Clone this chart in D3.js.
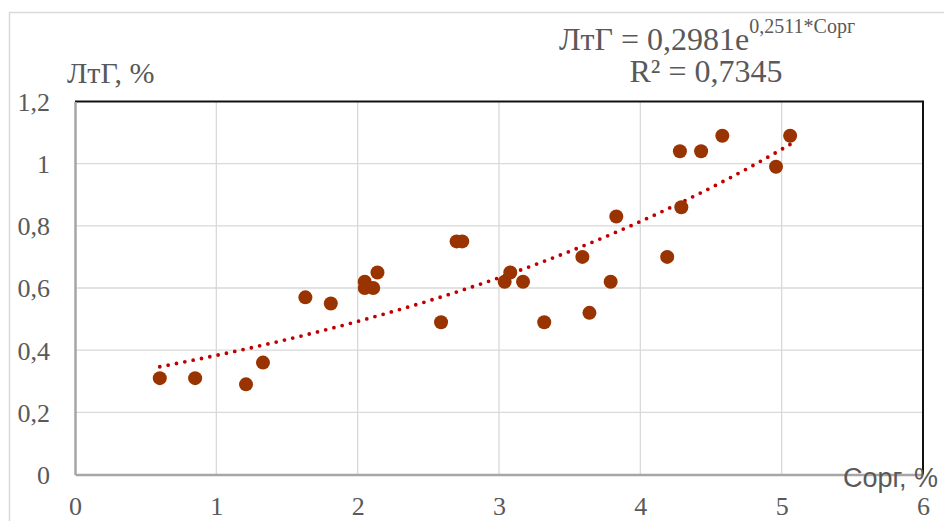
<!DOCTYPE html>
<html>
<head>
<meta charset="utf-8">
<script src="https://cdn.jsdelivr.net/npm/d3@7"></script>
<style>
  body { margin: 0; background: #fff; }
  svg { display: block; }
  .tick-label { font-family: 'Liberation Serif', 'Times New Roman', serif; font-size: 26px; fill: #595959; }
</style>
</head>
<body>
<div class="visual"></div>
<script>
const [width, height] = [944, 521];
const margin = { left: 75, right: 21, top: 101.5, bottom: 46.5 };

// data
const c_org = [0.6, 0.85, 1.21, 1.33, 1.63, 1.81, 2.05, 2.05, 2.11, 2.14, 2.59, 2.7, 2.74,
  3.04, 3.08, 3.17, 3.32, 3.59, 3.64, 3.79, 3.83, 4.19, 4.28, 4.29, 4.43, 4.58, 4.96, 5.06];
const ltg = [0.31, 0.31, 0.29, 0.36, 0.57, 0.55, 0.62, 0.6, 0.6, 0.65, 0.49, 0.75, 0.75,
  0.62, 0.65, 0.62, 0.49, 0.7, 0.52, 0.62, 0.83, 0.7, 1.04, 0.86, 1.04, 1.09, 0.99, 1.09];
const x_ticks = [0, 1, 2, 3, 4, 5, 6];
const y_ticks = [0, 0.2, 0.4, 0.6, 0.8, 1, 1.2];
const [trend_a, trend_b] = [0.2981, 0.2511];
const trend_steps = [0, 0.05, 0.1, 0.15, 0.2, 0.25, 0.3, 0.35, 0.4, 0.45, 0.5, 0.55, 0.6, 0.65, 0.7, 0.75, 0.8, 0.85, 0.9, 0.95, 1];

const fmt = (v) => String(v).replace('.', ',');

const svg = d3
  .select('.visual')
  .append('svg')
  .attr('width', width)
  .attr('height', height);

// chart area frame
svg
  .append('rect')
  .attr('x', 9.5)
  .attr('y', 12.5)
  .attr('width', 1000)
  .attr('height', 1000)
  .attr('fill', '#fff')
  .attr('stroke', '#d9d9d9')
  .attr('stroke-width', 1.5);

const x_scale = d3.scaleLinear().domain([0, 6]).range([margin.left, width - margin.right]);
const y_scale = d3.scaleLinear().domain([0, 1.2]).range([height - margin.bottom, margin.top]);

// gridlines
svg
  .append('g')
  .selectAll('line')
  .data(y_ticks.slice(1, -1))
  .enter()
  .append('line')
  .attr('x1', x_scale(0))
  .attr('x2', x_scale(6))
  .attr('y1', (d) => y_scale(d))
  .attr('y2', (d) => y_scale(d))
  .attr('stroke', '#d9d9d9')
  .attr('stroke-width', 1.3);

svg
  .append('g')
  .selectAll('line')
  .data(x_ticks.slice(1, -1))
  .enter()
  .append('line')
  .attr('x1', (d) => x_scale(d))
  .attr('x2', (d) => x_scale(d))
  .attr('y1', y_scale(0))
  .attr('y2', y_scale(1.2))
  .attr('stroke', '#d9d9d9')
  .attr('stroke-width', 1.3);

// plot area border: black top & right
svg
  .append('path')
  .attr('d', `M${x_scale(0)},${y_scale(1.2)}H${x_scale(6)}V${y_scale(0)}`)
  .attr('fill', 'none')
  .attr('stroke', '#111')
  .attr('stroke-width', 2);

// axes
const x_axis = d3.axisBottom(x_scale).tickValues(x_ticks).tickSize(0).tickPadding(21).tickFormat(fmt);
const y_axis = d3.axisLeft(y_scale).tickValues(y_ticks).tickSize(0).tickPadding(25).tickFormat(fmt);

const gx = svg
  .append('g')
  .attr('transform', `translate(0, ${y_scale(0)})`)
  .call(x_axis);
const gy = svg
  .append('g')
  .attr('transform', `translate(${x_scale(0)}, 0)`)
  .call(y_axis);

[gx, gy].forEach((g) => {
  g.select('.domain').attr('stroke', '#a6a6a6').attr('stroke-width', 2.5);
  g.selectAll('text').attr('class', 'tick-label').attr('font-size', null).attr('font-family', null);
});
gy.selectAll('text').attr('dy', '0.34em');
gx.selectAll('text').attr('dy', '0.76em');

// trendline
const x_min = d3.min(c_org);
const x_max = d3.max(c_org);
const trend_pts = trend_steps.map((t) => {
  const xv = x_min + (x_max - x_min) * t;
  return [xv, trend_a * Math.exp(trend_b * xv)];
});

svg
  .append('path')
  .datum(trend_pts)
  .attr('d', d3.line().x((d) => x_scale(d[0])).y((d) => y_scale(d[1])).curve(d3.curveMonotoneX))
  .attr('fill', 'none')
  .attr('stroke', '#c00000')
  .attr('stroke-width', 3.8)
  .attr('stroke-linecap', 'round')
  .attr('stroke-dasharray', '0 8.5');

// points
svg
  .append('g')
  .selectAll('circle')
  .data(c_org)
  .enter()
  .append('circle')
  .attr('cx', (d) => x_scale(d))
  .attr('cy', (d, i) => y_scale(ltg[i]))
  .attr('r', 7)
  .attr('fill', '#993300');

// titles
svg
  .append('text')
  .attr('x', 67)
  .attr('y', 83)
  .attr('font-family', "'Liberation Serif', 'Times New Roman', serif")
  .attr('font-size', 30)
  .attr('fill', '#595959')
  .text('ЛтГ, %');

svg
  .append('text')
  .attr('x', 843)
  .attr('y', 487)
  .attr('font-family', "'Liberation Sans', Arial, sans-serif")
  .attr('font-size', 27)
  .attr('fill', '#595959')
  .text('Сорг, %');

// equation
const eq = svg
  .append('text')
  .attr('x', 707)
  .attr('y', 50)
  .attr('text-anchor', 'middle')
  .attr('font-family', "'Liberation Serif', 'Times New Roman', serif")
  .attr('font-size', 32)
  .attr('fill', '#595959');
eq.append('tspan').text('ЛтГ = 0,2981e');
eq.append('tspan').attr('font-size', 20).attr('dy', -17).text('0,2511*Сорг');

svg
  .append('text')
  .attr('x', 706)
  .attr('y', 82)
  .attr('text-anchor', 'middle')
  .attr('font-family', "'Liberation Serif', 'Times New Roman', serif")
  .attr('font-size', 32)
  .attr('fill', '#595959')
  .text('R² = 0,7345');
</script>
</body>
</html>
